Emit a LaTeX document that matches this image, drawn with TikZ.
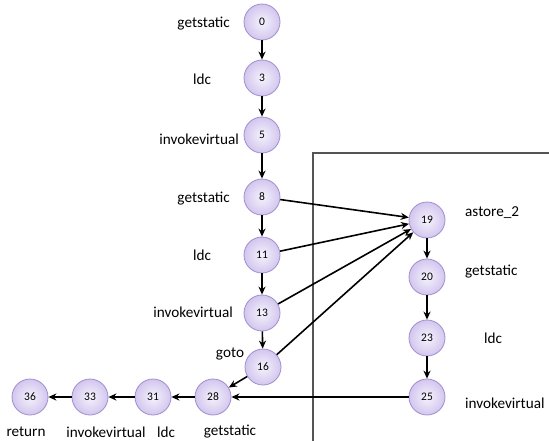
\documentclass[tikz,border=0pt]{standalone}
\usepackage{fontspec}
\setmainfont{Carlito}
\usetikzlibrary{arrows.meta}
\definecolor{nodeedge}{HTML}{A08ECF}
\definecolor{nodein}{HTML}{F6F3FC}
\definecolor{nodeout}{HTML}{D2C6EE}
\definecolor{boxline}{HTML}{555555}
\tikzset{
  bc/.style={circle, draw=nodeedge, line width=0.8pt, inner color=nodein, outer color=nodeout, minimum size=36pt, inner sep=0pt, font=\fontsize{11.5}{13}\selectfont},
  lbl/.style={font=\fontsize{15.2}{17}\selectfont, inner sep=0pt},
  arr/.style={-{Stealth[length=8pt,width=7pt]}, line width=1.6pt, black},
}
\begin{document}
\begin{tikzpicture}[x=1pt,y=-1pt]
\useasboundingbox (0,0) rectangle (549,440);
\draw[boxline, line width=1.2pt] (313,445) -- (313,153) -- (555,153);
% main column
\node[bc] (n0) at (262,22) {0};
\node[bc] (n3) at (262,78) {3};
\node[bc] (n5) at (262,135) {5};
\node[bc] (n8) at (262,197) {8};
\node[bc] (n11) at (262,255) {11};
\node[bc] (n13) at (262,313) {13};
\node[bc] (n16) at (263,367) {16};
\node[bc] (n28) at (213,397) {28};
\node[bc] (n31) at (153,397) {31};
\node[bc] (n33) at (90,397) {33};
\node[bc] (n36) at (30,397) {36};
\node[bc] (n19) at (427,220) {19};
\node[bc] (n20) at (427,277) {20};
\node[bc] (n23) at (427,338) {23};
\node[bc] (n25) at (427,397) {25};
% labels
\node[lbl, anchor=east] (l0) at (230,24) {getstatic};
\node[lbl] (l3) at (202,79) {ldc};
\node[lbl, anchor=east] (l5) at (239,139) {invokevirtual};
\node[lbl, anchor=east] (l8) at (230,199) {getstatic};
\node[lbl] (l11) at (202,255) {ldc};
\node[lbl, anchor=east] (l13) at (233,312) {invokevirtual};
\node[lbl] (l16) at (230,354) {goto};
\node[lbl] (l28) at (230,432) {getstatic};
\node[lbl] (l31) at (166,432) {ldc};
\node[lbl] (l33) at (106,432) {invokevirtual};
\node[lbl] (l36) at (26,432) {return};
\node[lbl, anchor=west] (l19) at (465,213) {astore\_2};
\node[lbl, anchor=west] (l20) at (465,272) {getstatic};
\node[lbl] (l23) at (493,338) {ldc};
\node[lbl, anchor=west] (l25) at (465,403) {invokevirtual};
% edges
\draw[arr] (n0) -- (n3);
\draw[arr] (n3) -- (n5);
\draw[arr] (n5) -- (n8);
\draw[arr] (n8) -- (n11);
\draw[arr] (n11) -- (n13);
\draw[arr] (n13) -- (n16);
\draw[arr] (n19) -- (n20);
\draw[arr] (n20) -- (n23);
\draw[arr] (n23) -- (n25);
\draw[arr] (n8) -- (n19);
\draw[arr] (n11) -- (n19);
\draw[arr] (n13) -- (n19);
\draw[arr] (n16) -- (n19);
\draw[arr] (n16) -- (n28);
\draw[arr] (n25) -- (n28);
\draw[arr] (n28) -- (n31);
\draw[arr] (n31) -- (n33);
\draw[arr] (n33) -- (n36);
\end{tikzpicture}
\end{document}
